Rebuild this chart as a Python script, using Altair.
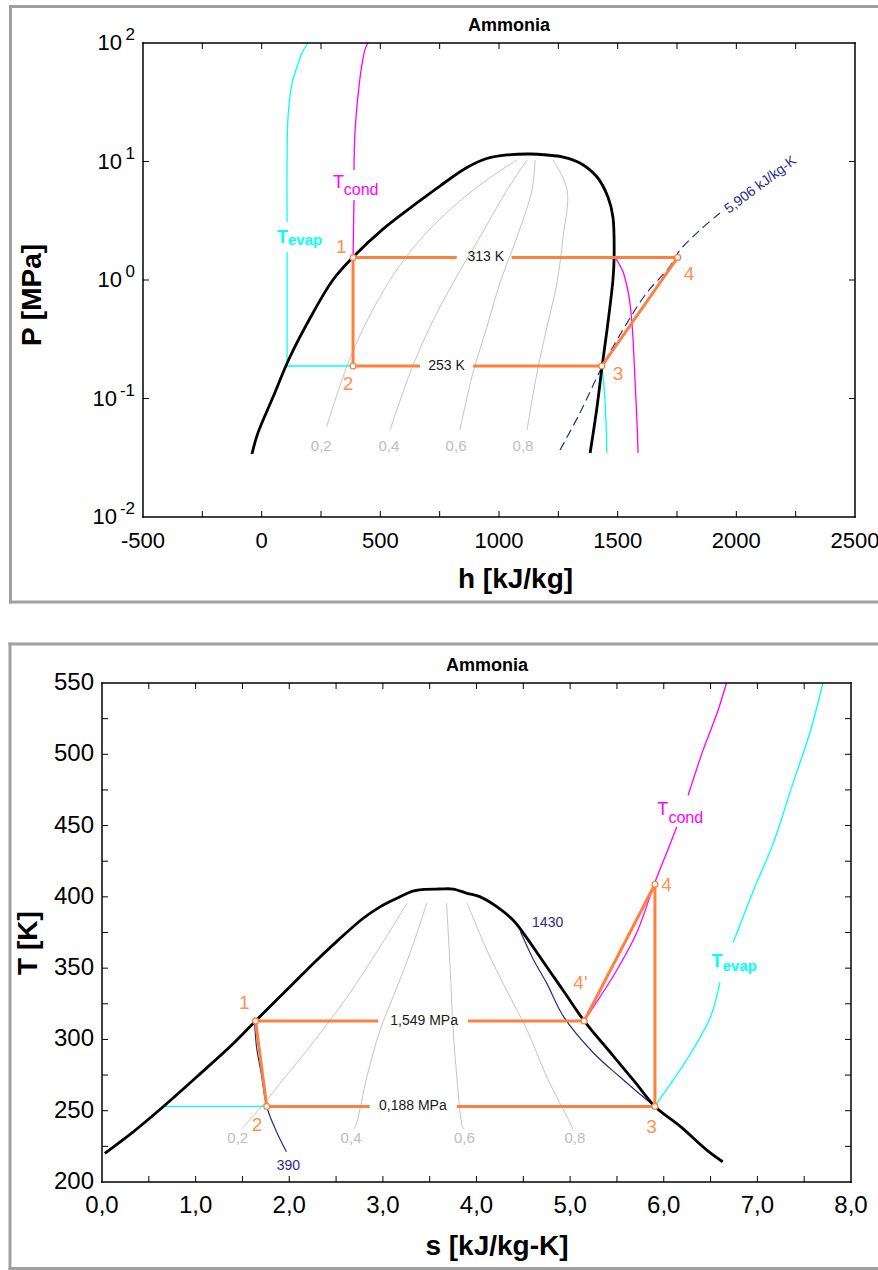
import altair as alt
import pandas as pd

FONT = "Liberation Sans"
ORANGE = "#FF7F3F"
ORANGE_TXT = "#FF8F55"
CYAN = "#00FFFF"
MAGENTA = "#FF00FF"
NAVY = "#2A2A90"
QGRAY = "#C4C4C4"
QTXT = "#BDBDBD"
FRAME = "#A0A0A0"

# ================= P-h diagram =================
PH_SAT_H = [-41, -16, 48, 119, 216, 300, 385, 511, 654, 751, 865, 949, 1034, 1131, 1202,
            1270, 1341, 1413, 1459, 1480, 1485, 1480, 1455, 1434, 1413, 1384]
PH_SAT_P = [0.034, 0.051, 0.103, 0.224, 0.527, 1.0, 1.56, 2.69, 4.47, 6.21, 8.90, 10.6, 11.35, 11.57, 11.35,
            10.9, 9.71, 7.40, 5.02, 3.40, 1.56, 1.0, 0.378, 0.184, 0.0848, 0.0347]

PH_Q2_H = [274, 386, 541, 667, 807, 948, 1075]
PH_Q2_P = [0.0578, 0.257, 1.0, 2.18, 4.15, 6.98, 10.3]
PH_Q4_H = [541, 625, 709, 806, 920, 1034, 1118]
PH_Q6_H = [835, 890, 949, 1004, 1076, 1139, 1152]
PH_Q8_H = [1118, 1160, 1202, 1244, 1270, 1287, 1228]
PH_Q_P = [0.0542, 0.164, 0.401, 0.944, 2.31, 5.75, 10.3]
Q_LABELS = ["0,2", "0,4", "0,6", "0,8"]
PH_QLAB_H = [251, 536, 819, 1101]
PH_QLAB_P = [0.0397, 0.0397, 0.0397, 0.0397]

PH_EVAP_A_H = [195, 170, 149, 128, 111, 107, 107]
PH_EVAP_A_P = [100, 82.4, 62.9, 45.8, 23.7, 10.3, 3.09]
PH_EVAP_B_H = [107, 107, 385]
PH_EVAP_B_P = [1.72, 0.188, 0.188]
PH_EVAP_C_H = [1433, 1440, 1450, 1454]
PH_EVAP_C_P = [0.188, 0.143, 0.07, 0.0347]

PH_COND_A_H = [447, 435, 421, 407, 393, 389]
PH_COND_A_P = [100, 87.5, 62.9, 37.8, 17.4, 8.48]
PH_COND_B_H = [389, 385]
PH_COND_B_P = [4.73, 1.549]
PH_COND_C_H = [1489, 1506, 1523, 1535, 1548, 1557, 1565, 1573, 1582, 1586]
PH_COND_C_P = [1.549, 1.365, 1.168, 0.962, 0.719, 0.507, 0.312, 0.143, 0.0598, 0.0347]

PH_ISEN_H = [1257, 1341, 1434, 1539, 1622, 1718, 1763, 1847, 1931]
PH_ISEN_P = [0.0368, 0.0755, 0.184, 0.433, 0.777, 1.287, 1.79, 2.64, 3.68]

PH_CYC_A_H = [1753, 1053]
PH_CYC_A_P = [1.549, 1.549]
PH_CYC_B_H = [822, 385, 385, 667]
PH_CYC_B_P = [1.549, 1.549, 0.188, 0.188]
PH_CYC_C_H = [891, 1433, 1753]
PH_CYC_C_P = [0.188, 0.188, 1.549]
PH_PTS_H = [385, 385, 1433, 1753]
PH_PTS_P = [1.549, 0.188, 0.188, 1.549]
PT_LABELS = ["1", "2", "3", "4"]
PH_PTLAB_H = [335, 364, 1502, 1801]
PH_PTLAB_P = [1.90, 0.1325, 0.161, 1.12]

PH_ISO_LABELS = ["313 K", "253 K"]
PH_ISO_H = [944, 779]
PH_ISO_P = [1.549, 0.188]

PH_X_LABELS = [-500, 0, 500, 1000, 1500, 2000, 2500]
PH_X_TICKS = [-250, 0, 250, 500, 750, 1000, 1250, 1500, 1750, 2000, 2250]
PH_Y_DECADES = [0.01, 0.1, 1, 10, 100]
PH_Y_EXP = ["-2", "-1", "0", "1", "2"]
PH_Y_TICKS = [0.1, 1, 10]

# ================= T-s diagram =================
TS_SAT_S = [0.03, 0.33, 0.65, 1.05, 1.40, 1.64, 2.04, 2.26, 2.52, 2.79, 2.97, 3.15, 3.32, 3.45,
            3.60, 3.75, 3.90, 4.04, 4.22, 4.39, 4.50, 4.75, 4.95, 5.15, 5.46, 5.70, 5.906, 6.18, 6.46, 6.63]
TS_SAT_T = [220.1, 235, 252.6, 276, 297, 313, 339, 353.5, 369.5, 385, 393, 399, 404, 405.3,
            405.5, 405.5, 402.5, 400, 393, 383.7, 374.6, 351, 332, 313, 288.5, 269.5, 253, 238.8, 222.4, 214.2]

TS_Q2_S = [1.49, 1.55, 1.79, 1.93, 2.25, 2.62, 2.97, 3.26]
TS_Q2_T = [237, 241.4, 259.8, 271.5, 297.5, 330, 365, 395.7]
TS_Q4_S = [2.69, 2.72, 2.83, 2.97, 3.11, 3.29, 3.47]
TS_Q4_T = [237, 241.4, 273.8, 306.6, 330, 360.6, 395.7]
TS_Q6_S = [3.86, 3.84, 3.79, 3.75, 3.72, 3.68]
TS_Q6_T = [237, 241.4, 273.8, 306.6, 348.7, 395.7]
TS_Q8_S = [5.03, 5.00, 4.75, 4.54, 4.32, 4.11, 3.90]
TS_Q8_T = [237, 241.4, 273.8, 306.6, 334.6, 362.7, 395.7]
TS_QLAB_S = [1.45, 2.66, 3.87, 5.05]
TS_QLAB_T = [230.9, 230.9, 230.9, 230.9]

TS_EVAP_A_S = [0.64, 1.76]
TS_EVAP_A_T = [253, 253]
TS_EVAP_B_S = [5.906, 5.93, 6.10, 6.31, 6.50, 6.60]
TS_EVAP_B_T = [253, 255.4, 271.5, 292.6, 315.9, 340]
TS_EVAP_C_S = [6.74, 6.76, 6.96, 7.17, 7.38, 7.56, 7.70]
TS_EVAP_C_T = [368, 371.1, 404.8, 437.7, 479.8, 514.9, 550]

TS_COND_A_S = [5.15, 5.18, 5.50, 5.71, 5.91, 6.03, 6.14]
TS_COND_A_T = [313, 315.9, 348.7, 374.6, 411, 430.7, 449.2]
TS_COND_B_S = [6.26, 6.42, 6.57, 6.67]
TS_COND_B_T = [471.1, 502.9, 528.9, 550]

TS_H390_S = [1.63, 1.65, 1.70, 1.76, 1.87, 1.97]
TS_H390_T = [312.5, 295, 276.4, 252.8, 234.4, 221.2]
TS_H1430_S = [4.47, 4.61, 4.75, 4.93, 5.25, 5.53, 5.82, 5.906]
TS_H1430_T = [375.5, 355.7, 339.5, 316, 290.5, 273.8, 257.5, 253]

TS_CYC_A_S = [2.95, 1.64, 1.76, 2.86]
TS_CYC_A_T = [313, 313, 253, 253]
TS_CYC_B_S = [3.79, 5.906, 5.906, 5.15, 3.91]
TS_CYC_B_T = [253, 253, 408.8, 313, 313]
TS_PTS_S = [1.64, 1.76, 5.906, 5.906, 5.15]
TS_PTS_T = [313, 253, 253, 408.8, 313]
TS_PT_LABELS = ["1", "2", "3", "4", "4'"]
TS_PTLAB_S = [1.52, 1.655, 5.87, 6.03, 5.11]
TS_PTLAB_T = [325.5, 240, 238.8, 408.3, 339.3]

TS_ISO_LABELS = ["1,549 MPa", "0,188 MPa"]
TS_ISO_S = [3.44, 3.32]
TS_ISO_T = [313, 253]

TS_X_LABELS = [0, 1, 2, 3, 4, 5, 6, 7, 8]
TS_X_TICKS = [0.5, 1, 1.5, 2, 2.5, 3, 3.5, 4, 4.5, 5, 5.5, 6, 6.5, 7, 7.5]
TS_Y_LABELS = [200, 250, 300, 350, 400, 450, 500, 550]
TS_Y_TICKS = [225, 250, 275, 300, 325, 350, 375, 400, 425, 450, 475, 500, 525]

# plot-area placement on the 878x1270 page (pixels)
P1_L, P1_R, P1_T, P1_B = 143, 855, 43, 517
P2_L, P2_R, P2_T, P2_B = 102, 851, 683, 1182
ONE = pd.DataFrame({"a": [0]})
SMOOTH = "catmull-rom"


# ================= helpers =================
def segs_df(*pairs):
    frames = []
    for i, (xs, ys) in enumerate(pairs):
        frames.append(pd.DataFrame({"x": xs, "y": ys, "o": list(range(len(xs))), "seg": [i] * len(xs)}))
    return pd.concat(frames, ignore_index=True)


def lines(df, sx, sy, color, width, dash=None, interp="linear"):
    kw = dict(color=color, strokeWidth=width, strokeJoin="round", interpolate=interp)
    if dash:
        kw["strokeDash"] = dash
    return alt.Chart(df).mark_line(**kw).encode(
        x=alt.X("x:Q", scale=sx, axis=None),
        y=alt.Y("y:Q", scale=sy, axis=None),
        order="o:Q", detail="seg:N")


def texts(xs, ys, labels, sx, sy, **kw):
    df = pd.DataFrame({"x": xs, "y": ys, "t": labels})
    style = dict(font=FONT)
    style.update(kw)
    return alt.Chart(df).mark_text(**style).encode(
        x=alt.X("x:Q", scale=sx, axis=None),
        y=alt.Y("y:Q", scale=sy, axis=None),
        text="t:N")


def points(xs, ys, sx, sy):
    df = pd.DataFrame({"x": xs, "y": ys})
    return alt.Chart(df).mark_circle(fill="white", stroke=ORANGE, strokeWidth=1.3, size=34, opacity=1).encode(
        x=alt.X("x:Q", scale=sx, axis=None),
        y=alt.Y("y:Q", scale=sy, axis=None))


def ptext(label, x, y, **kw):
    style = dict(font=FONT)
    style.update(kw)
    return alt.Chart(pd.DataFrame({"t": [label]})).mark_text(**style).encode(
        x=alt.value(x), y=alt.value(y), text="t:N")


def prule(x1, x2, y1, y2, color=FRAME, width=3):
    enc = dict(x=alt.value(x1), y=alt.value(y1))
    if x2 is not None:
        enc["x2"] = alt.value(x2)
    if y2 is not None:
        enc["y2"] = alt.value(y2)
    return alt.Chart(ONE).mark_rule(color=color, strokeWidth=width, strokeCap="square").encode(**enc)


def box(l, r, t, b):
    return [prule(l, r, t, None, "black", 1.5), prule(l, r, b, None, "black", 1.5),
            prule(l, None, t, b, "black", 1.5), prule(r, None, t, b, "black", 1.5)]


def xticks(vals, sx, top, bottom, L=6):
    df = pd.DataFrame({"v": vals})
    a = alt.Chart(df).mark_rule(color="black", strokeWidth=1).encode(
        x=alt.X("v:Q", scale=sx, axis=None), y=alt.value(top), y2=alt.value(top + L))
    b = alt.Chart(df).mark_rule(color="black", strokeWidth=1).encode(
        x=alt.X("v:Q", scale=sx, axis=None), y=alt.value(bottom), y2=alt.value(bottom - L))
    return [a, b]


def yticks(vals, sy, left, right, L=6):
    df = pd.DataFrame({"v": vals})
    a = alt.Chart(df).mark_rule(color="black", strokeWidth=1).encode(
        y=alt.Y("v:Q", scale=sy, axis=None), x=alt.value(left), x2=alt.value(left + L))
    b = alt.Chart(df).mark_rule(color="black", strokeWidth=1).encode(
        y=alt.Y("v:Q", scale=sy, axis=None), x=alt.value(right), x2=alt.value(right - L))
    return [a, b]


def xlabels(vals, labels, sx, ypix, size):
    df = pd.DataFrame({"v": vals, "t": labels})
    return alt.Chart(df).mark_text(font=FONT, fontSize=size, color="black", align="center", baseline="middle").encode(
        x=alt.X("v:Q", scale=sx, axis=None), y=alt.value(ypix), text="t:N")


def ylabels(vals, labels, sy, xpix, size):
    df = pd.DataFrame({"v": vals, "t": labels})
    return alt.Chart(df).mark_text(font=FONT, fontSize=size, color="black", align="right", baseline="middle").encode(
        y=alt.Y("v:Q", scale=sy, axis=None), x=alt.value(xpix), text="t:N")


# ================= P-h chart =================
sx1 = alt.Scale(domain=[-500, 2500], range=[P1_L, P1_R], nice=False, zero=False)
sy1 = alt.Scale(type="log", domain=[0.01, 100], range=[P1_B, P1_T], nice=False)

ydec = pd.DataFrame({"y": PH_Y_DECADES, "e": PH_Y_EXP})
ph_exp = alt.Chart(ydec).mark_text(font=FONT, fontSize=17, align="right", baseline="middle", dy=-8).encode(
    x=alt.value(P1_L - 8), y=alt.Y("y:Q", scale=sy1, axis=None), text="e:N")
ph_base = alt.Chart(ydec).transform_calculate(
    px=f"{P1_L - 8} - (length(datum.e) > 1 ? 18 : 13)"
).mark_text(font=FONT, fontSize=22, align="right", baseline="middle").encode(
    x=alt.X("px:Q", scale=None, axis=None), y=alt.Y("y:Q", scale=sy1, axis=None), text=alt.value("10"))

ph = alt.layer(
    lines(segs_df((PH_Q2_H, PH_Q2_P), (PH_Q4_H, PH_Q_P), (PH_Q6_H, PH_Q_P), (PH_Q8_H, PH_Q_P)), sx1, sy1, QGRAY, 1, interp=SMOOTH),
    texts(PH_QLAB_H, PH_QLAB_P, Q_LABELS, sx1, sy1, fontSize=15, color=QTXT, align="center", baseline="middle"),
    lines(segs_df((PH_EVAP_A_H, PH_EVAP_A_P), (PH_EVAP_C_H, PH_EVAP_C_P)), sx1, sy1, CYAN, 1.3, interp=SMOOTH),
    lines(segs_df((PH_EVAP_B_H, PH_EVAP_B_P)), sx1, sy1, CYAN, 1.3),
    lines(segs_df((PH_COND_A_H, PH_COND_A_P), (PH_COND_B_H, PH_COND_B_P), (PH_COND_C_H, PH_COND_C_P)), sx1, sy1, MAGENTA, 1.3, interp=SMOOTH),
    lines(segs_df((PH_ISEN_H, PH_ISEN_P)), sx1, sy1, NAVY, 1.2, dash=[9, 5], interp=SMOOTH),
    lines(segs_df((PH_SAT_H, PH_SAT_P)), sx1, sy1, "black", 2.8, interp=SMOOTH),
    lines(segs_df((PH_CYC_A_H, PH_CYC_A_P), (PH_CYC_B_H, PH_CYC_B_P), (PH_CYC_C_H, PH_CYC_C_P)), sx1, sy1, ORANGE, 3),
    points(PH_PTS_H, PH_PTS_P, sx1, sy1),
    texts(PH_PTLAB_H, PH_PTLAB_P, PT_LABELS, sx1, sy1, fontSize=19, color=ORANGE_TXT, align="center", baseline="middle"),
    texts(PH_ISO_H, PH_ISO_P, PH_ISO_LABELS, sx1, sy1, fontSize=14, color="#1a1a1a", align="center", baseline="middle"),
    texts([2102], [6.33], ["5,906 kJ/kg-K"], sx1, sy1, fontSize=14, color=NAVY, align="center", baseline="middle", angle=323),
    texts([64.5], [2.06], ["T"], sx1, sy1, fontSize=18, fontWeight="bold", color=CYAN, align="left", baseline="alphabetic"),
    texts([111], [1.97], ["evap"], sx1, sy1, fontSize=15, fontWeight="bold", color=CYAN, align="left", baseline="alphabetic"),
    texts([300.5], [5.97], ["T"], sx1, sy1, fontSize=18, color=MAGENTA, align="left", baseline="alphabetic"),
    texts([346], [5.22], ["cond"], sx1, sy1, fontSize=16, color=MAGENTA, align="left", baseline="alphabetic"),
    *xticks(PH_X_TICKS, sx1, P1_T, P1_B),
    *yticks(PH_Y_TICKS, sy1, P1_L, P1_R),
    xlabels(PH_X_LABELS, [str(v) for v in PH_X_LABELS], sx1, 540.5, 22),
    ph_exp, ph_base,
)

# ================= T-s chart =================
sx2 = alt.Scale(domain=[0, 8], range=[P2_L, P2_R], nice=False, zero=False)
sy2 = alt.Scale(domain=[200, 550], range=[P2_B, P2_T], nice=False, zero=False)

ts = alt.layer(
    lines(segs_df((TS_Q2_S, TS_Q2_T), (TS_Q4_S, TS_Q4_T), (TS_Q6_S, TS_Q6_T), (TS_Q8_S, TS_Q8_T)), sx2, sy2, QGRAY, 1, interp=SMOOTH),
    texts(TS_QLAB_S, TS_QLAB_T, Q_LABELS, sx2, sy2, fontSize=15, color=QTXT, align="center", baseline="middle"),
    lines(segs_df((TS_EVAP_A_S, TS_EVAP_A_T), (TS_EVAP_B_S, TS_EVAP_B_T), (TS_EVAP_C_S, TS_EVAP_C_T)), sx2, sy2, CYAN, 1.3, interp=SMOOTH),
    lines(segs_df((TS_COND_A_S, TS_COND_A_T), (TS_COND_B_S, TS_COND_B_T)), sx2, sy2, MAGENTA, 1.3, interp=SMOOTH),
    lines(segs_df((TS_H390_S, TS_H390_T), (TS_H1430_S, TS_H1430_T)), sx2, sy2, NAVY, 1.2, interp=SMOOTH),
    texts([1.99, 4.76], [211.2, 381.6], ["390", "1430"], sx2, sy2, fontSize=14, color=NAVY, align="center", baseline="middle"),
    lines(segs_df((TS_SAT_S, TS_SAT_T)), sx2, sy2, "black", 2.8, interp=SMOOTH),
    lines(segs_df((TS_CYC_A_S, TS_CYC_A_T), (TS_CYC_B_S, TS_CYC_B_T)), sx2, sy2, ORANGE, 3),
    points(TS_PTS_S, TS_PTS_T, sx2, sy2),
    texts(TS_PTLAB_S, TS_PTLAB_T, TS_PT_LABELS, sx2, sy2, fontSize=19, color=ORANGE_TXT, align="center", baseline="middle"),
    texts(TS_ISO_S, TS_ISO_T, TS_ISO_LABELS, sx2, sy2, fontSize=14, color="#1a1a1a", align="center", baseline="middle"),
    texts([6.51], [351], ["T"], sx2, sy2, fontSize=18, fontWeight="bold", color=CYAN, align="left", baseline="alphabetic"),
    texts([6.63], [348], ["evap"], sx2, sy2, fontSize=15, fontWeight="bold", color=CYAN, align="left", baseline="alphabetic"),
    texts([5.93], [457.4], ["T"], sx2, sy2, fontSize=18, color=MAGENTA, align="left", baseline="alphabetic"),
    texts([6.05], [451.8], ["cond"], sx2, sy2, fontSize=16, color=MAGENTA, align="left", baseline="alphabetic"),
    *xticks(TS_X_TICKS, sx2, P2_T, P2_B),
    *yticks(TS_Y_TICKS, sy2, P2_L, P2_R),
    xlabels(TS_X_LABELS, [f"{v:.1f}".replace(".", ",") for v in TS_X_LABELS], sx2, 1206, 24),
    ylabels(TS_Y_LABELS, [str(v) for v in TS_Y_LABELS], sy2, P2_L - 8, 24),
)

# ================= frames, borders and titles (page pixels) =================
decor = alt.layer(
    prule(10.5, 877, 6.5, None), prule(10.5, None, 6.5, 602), prule(10.5, 877, 602, None),
    prule(10, 877, 644, None), prule(10, None, 644, 1268.5), prule(10, 877, 1268.5, None),
    *box(P1_L, P1_R, P1_T, P1_B),
    *box(P2_L, P2_R, P2_T, P2_B),
    ptext("Ammonia", 509, 26, fontSize=18, fontWeight="bold", align="center", baseline="middle"),
    ptext("h [kJ/kg]", 515.5, 579.5, fontSize=28, fontWeight="bold", align="center", baseline="middle"),
    ptext("P [MPa]", 33, 295, fontSize=28, fontWeight="bold", align="center", baseline="middle", angle=270),
    ptext("Ammonia", 487, 665.5, fontSize=18, fontWeight="bold", align="center", baseline="middle"),
    ptext("s [kJ/kg-K]", 497, 1247, fontSize=28, fontWeight="bold", align="center", baseline="middle"),
    ptext("T [K]", 29, 943, fontSize=28, fontWeight="bold", align="center", baseline="middle", angle=270),
)

chart = alt.layer(ph, ts, decor).resolve_scale(x="independent", y="independent").properties(
    width=878, height=1270, padding=0, autosize=alt.AutoSizeParams(type="none")
).configure_view(stroke="transparent")

chart.save("out.html", embed_options={"renderer": "svg", "actions": False})
